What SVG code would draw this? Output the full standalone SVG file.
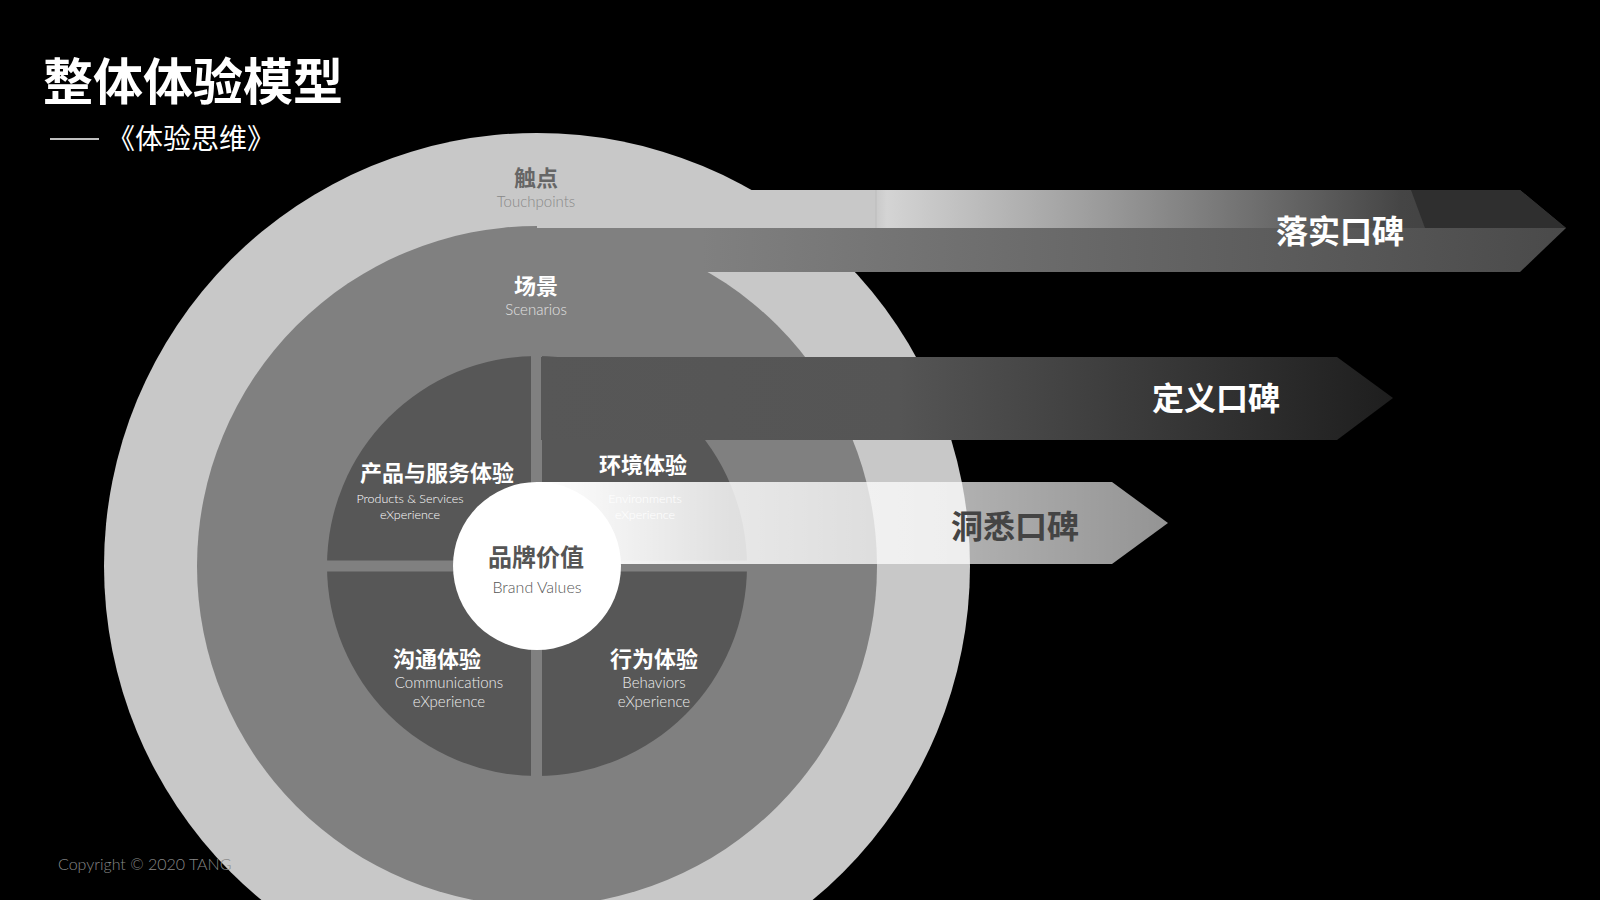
<svg xmlns="http://www.w3.org/2000/svg" width="1600" height="900" viewBox="0 0 1600 900">
<defs>
<style>
.cn{font-family:"Noto Sans CJK SC","Liberation Sans",sans-serif;font-weight:bold;text-anchor:middle}
.en{font-family:"Lato","Noto Sans","Liberation Sans",sans-serif;font-weight:300;text-anchor:middle}
</style>
<linearGradient id="gTopU" x1="537" y1="0" x2="1566" y2="0" gradientUnits="userSpaceOnUse">
<stop offset="0" stop-color="#c8c8c8"/><stop offset="0.328" stop-color="#c8c8c8"/><stop offset="0.34" stop-color="#d4d4d4"/><stop offset="0.55" stop-color="#9a9a9a"/><stop offset="0.84" stop-color="#454545"/><stop offset="1" stop-color="#3a3a3a"/>
</linearGradient>
<linearGradient id="gTopL" x1="537" y1="0" x2="1566" y2="0" gradientUnits="userSpaceOnUse">
<stop offset="0" stop-color="#808080"/><stop offset="0.16" stop-color="#808080"/><stop offset="1" stop-color="#4a4a4a"/>
</linearGradient>
<linearGradient id="gMid" x1="541" y1="0" x2="1393" y2="0" gradientUnits="userSpaceOnUse">
<stop offset="0" stop-color="#575757"/><stop offset="0.42" stop-color="#555"/><stop offset="1" stop-color="#1e1e1e"/>
</linearGradient>
<linearGradient id="gBot" x1="537" y1="0" x2="1168" y2="0" gradientUnits="userSpaceOnUse">
<stop offset="0" stop-color="#fff" stop-opacity="1"/><stop offset="0.3" stop-color="#fff" stop-opacity="0.82"/><stop offset="1" stop-color="#fff" stop-opacity="0.58"/>
</linearGradient>
</defs>
<rect width="1600" height="900" fill="#000"/>
<g id="title">
<text x="43" y="100" font-family="Noto Sans CJK SC,sans-serif" font-weight="bold" font-size="50" fill="#fff">整体体验模型</text>
<line x1="50" y1="139" x2="99" y2="139" stroke="#fff" stroke-width="1.5"/>
<text x="107" y="149" font-family="Noto Sans CJK SC,sans-serif" font-size="28" fill="#fff">《体验思维》</text>
</g>
<g id="touchpoints"><circle cx="537" cy="566" r="433" fill="#c8c8c8"/></g>
<g id="scenarios"><circle cx="537" cy="566" r="340" fill="#808080"/></g>
<g id="quadrants">
<circle cx="537" cy="566" r="210" fill="#575757"/>
<rect x="531" y="350" width="11" height="432" fill="#808080"/>
<rect x="320" y="560.5" width="434" height="11" fill="#808080"/>
</g>
<g id="env-text">
<text class="en" x="645" y="503" font-size="12.5" fill="#fff">Environments</text>
<text class="en" x="645" y="519" font-size="12.5" fill="#fff">eXperience</text>
</g>
<g id="connectors">
<polygon points="537,190 1520,190 1566,228 537,228" fill="url(#gTopU)"/>
<polygon points="1411,190 1520,190 1566,228 1425,228" fill="#2f2f2f"/>
<polygon points="537,228 1566,228 1520,272 537,272" fill="url(#gTopL)"/>
<line x1="876" y1="190" x2="876" y2="228" stroke="#bbb" stroke-width="1"/>
<polygon points="541,357 1337,357 1393,398 1337,440 541,440" fill="url(#gMid)"/>
<polygon points="537,482 1112,482 1168,523 1112,564 537,564" fill="url(#gBot)"/>
</g>
<g id="brand"><circle cx="537" cy="566" r="84" fill="#fff"/></g>
<g id="labels">
<text class="cn" x="536" y="186" font-size="22" fill="#666">触点</text>
<text class="en" x="536" y="207" font-size="15" fill="#888">Touchpoints</text>
<text class="cn" x="536" y="294" font-size="22" fill="#fff">场景</text>
<text class="en" x="536" y="315" font-size="15" fill="#e0e0e0">Scenarios</text>
<text class="cn" x="437" y="481" font-size="22" fill="#fff">产品与服务体验</text>
<text class="en" x="410" y="503" font-size="12.5" fill="#fff">Products &amp; Services</text>
<text class="en" x="410" y="519" font-size="12.5" fill="#fff">eXperience</text>
<text class="cn" x="643" y="473" font-size="22" fill="#fff">环境体验</text>
<text class="cn" x="536" y="566" font-size="24" fill="#555">品牌价值</text>
<text class="en" x="537" y="593" font-size="16" fill="#555">Brand Values</text>
<text class="cn" x="437" y="667" font-size="22" fill="#fff">沟通体验</text>
<text class="en" x="449" y="688" font-size="15" fill="#eee">Communications</text>
<text class="en" x="449" y="707" font-size="15" fill="#eee">eXperience</text>
<text class="cn" x="654" y="667" font-size="22" fill="#fff">行为体验</text>
<text class="en" x="654" y="688" font-size="15" fill="#eee">Behaviors</text>
<text class="en" x="654" y="707" font-size="15" fill="#eee">eXperience</text>
<text class="cn" x="1340" y="243" font-size="32" fill="#fff">落实口碑</text>
<text class="cn" x="1216" y="410" font-size="32" fill="#fff">定义口碑</text>
<text class="cn" x="1015" y="538" font-size="32" fill="#444">洞悉口碑</text>
</g>
<text x="58" y="870" font-family="Lato,Noto Sans,Liberation Sans,sans-serif" font-weight="300" font-size="16" fill="#888">Copyright © 2020 TANG</text>
</svg>
